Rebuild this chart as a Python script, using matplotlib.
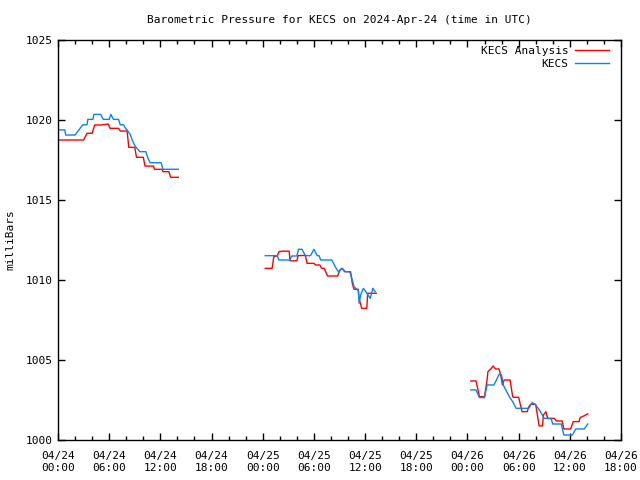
import numpy as np
import matplotlib
matplotlib.use('Agg')
import matplotlib.pyplot as plt

nan = np.nan

# hours since 2024-04-24 00:00 UTC, nan = gap in the record
analysis_hours = [0.0, 3.0, 3.4, 4.0, 4.3, 5.1, 5.9, 6.1, 7.1, 7.3, 8.1, 8.3, 9.0, 9.2,
                  10.0, 10.2, 11.2, 11.3, 12.2, 12.3, 13.0, 13.2, 14.1,
                  nan,
                  24.3, 25.1, 25.3, 25.7, 25.9, 26.3, 27.1, 27.2, 28.0, 28.15, 29.0,
                  29.2, 30.0, 30.2, 30.7, 30.9, 31.2, 31.6, 32.8, 33.0, 33.3, 33.6,
                  34.3, 34.5, 34.7, 35.2, 35.3, 35.6, 36.2, 36.3, 37.3,
                  nan,
                  48.4, 49.0, 49.2, 49.4, 50.0, 50.3, 50.4, 50.8, 51.0, 51.3, 51.7,
                  51.9, 52.1, 52.3, 53.0, 53.3, 53.4, 54.0, 54.4, 55.0, 55.2, 55.4,
                  56.0, 56.4, 56.8, 56.9, 57.2, 57.4, 58.2, 58.4, 59.1, 59.3, 60.1,
                  60.4, 61.1, 61.2, 61.7, 62.1]
analysis_mb = [1018.75, 1018.75, 1019.17, 1019.17, 1019.69, 1019.69, 1019.75, 1019.48, 1019.48,
               1019.31, 1019.31, 1018.29, 1018.29, 1017.67, 1017.67, 1017.12, 1017.12,
               1016.92, 1016.92, 1016.77, 1016.77, 1016.42, 1016.42,
               nan,
               1010.73, 1010.73, 1011.46, 1011.5, 1011.77, 1011.8, 1011.8, 1011.2, 1011.2,
               1011.53, 1011.53, 1011.04, 1011.04, 1010.94, 1010.94, 1010.73, 1010.73,
               1010.25, 1010.25, 1010.6, 1010.73, 1010.52, 1010.52, 1009.79, 1009.42,
               1009.42, 1008.85, 1008.23, 1008.23, 1009.17, 1009.17,
               nan,
               1003.69, 1003.69, 1003.23, 1002.71, 1002.71, 1003.75, 1004.27, 1004.47,
               1004.63, 1004.44, 1004.44, 1004.06, 1003.44, 1003.75, 1003.75, 1002.71,
               1002.67, 1002.67, 1001.77, 1001.77, 1002.08, 1002.23, 1002.23, 1000.88,
               1000.88, 1001.56, 1001.77, 1001.35, 1001.35, 1001.19, 1001.19, 1000.69,
               1000.69, 1001.15, 1001.15, 1001.4, 1001.52, 1001.63]

station_hours = [0.0, 0.8, 0.9, 2.0, 2.9, 3.4, 3.5, 4.1, 4.2, 5.0, 5.3, 6.0, 6.2, 6.5, 7.1,
                 7.3, 7.7, 7.9, 8.1, 8.5, 8.7, 9.0, 9.3, 9.6, 10.3, 10.5, 10.8, 12.1,
                 12.3, 14.1,
                 nan,
                 24.3, 25.7, 25.9, 27.2, 27.4, 28.0, 28.2, 28.6, 29.0, 29.6, 30.0, 30.4,
                 30.6, 30.8, 32.1, 32.5, 32.9, 33.3, 33.7, 34.2, 34.5, 34.7, 35.1, 35.2,
                 35.3, 35.5, 35.8, 36.3, 36.6, 36.9, 37.2,
                 nan,
                 48.4, 49.0, 49.4, 50.0, 50.3, 51.1, 51.4, 51.7, 52.0, 52.2, 52.5, 52.9,
                 53.3, 53.7, 55.2, 55.6, 55.9, 56.3, 56.6, 57.0, 57.8, 58.0, 59.0, 59.3,
                 60.3, 60.7, 61.7, 62.1]
station_mb = [1019.38, 1019.38, 1019.06, 1019.06, 1019.7, 1019.7, 1020.04, 1020.04, 1020.35,
              1020.35, 1020.04, 1020.04, 1020.35, 1020.04, 1020.04, 1019.7, 1019.7,
              1019.48, 1019.38, 1019.06, 1018.75, 1018.4, 1018.2, 1018.02, 1018.02,
              1017.67, 1017.33, 1017.33, 1016.92, 1016.92,
              nan,
              1011.52, 1011.52, 1011.25, 1011.25, 1011.5, 1011.5, 1011.92, 1011.92,
              1011.52, 1011.52, 1011.92, 1011.52, 1011.52, 1011.25, 1011.25, 1010.83,
              1010.48, 1010.73, 1010.52, 1010.52, 1010.0, 1009.58, 1009.38, 1009.38,
              1008.54, 1009.1, 1009.48, 1009.1, 1008.85, 1009.48, 1009.27,
              nan,
              1003.13, 1003.13, 1002.65, 1002.65, 1003.44, 1003.44, 1003.75, 1004.1,
              1004.06, 1003.44, 1003.13, 1002.71, 1002.4, 1001.98, 1001.98, 1002.35,
              1002.23, 1001.98, 1001.73, 1001.35, 1001.35, 1001.0, 1001.0, 1000.31,
              1000.31, 1000.69, 1000.69, 1001.0]

tick_hours = list(range(0, 67, 6))
tick_labels = ['04/24\n00:00', '04/24\n06:00', '04/24\n12:00', '04/24\n18:00',
               '04/25\n00:00', '04/25\n06:00', '04/25\n12:00', '04/25\n18:00',
               '04/26\n00:00', '04/26\n06:00', '04/26\n12:00', '04/26\n18:00']

plt.rcParams['font.family'] = ['DejaVu Sans Mono']
plt.rcParams['font.size'] = 8

fig = plt.figure(figsize=(6.4, 4.8), dpi=100)
ax = fig.add_axes([58 / 640, 40 / 480, 563 / 640, 400 / 480])

ax.plot(analysis_hours, analysis_mb, color='#ff0000', lw=1, label='KECS Analysis')
ax.plot(station_hours, station_mb, color='#0a84f0', lw=1, label='KECS')

ax.set_xlim(0, 66)
ax.set_ylim(1000, 1025)
ax.set_xticks(tick_hours)
ax.set_xticklabels(tick_labels)
ax.set_xticks(range(0, 67, 2), minor=True)
ax.set_yticks(range(1000, 1026, 5))
ax.tick_params(axis='both', which='major', direction='in', length=5, width=1,
               top=True, right=True, labelsize=8)
ax.tick_params(axis='x', which='minor', direction='in', length=3, width=1, top=True)
ax.tick_params(axis='x', which='major', pad=8)
for sp in ax.spines.values():
    sp.set_linewidth(1)

ax.set_ylabel('milliBars', fontsize=8, labelpad=8)
ax.set_title('Barometric Pressure for KECS on 2024-Apr-24 (time in UTC)', fontsize=8, pad=12)
ax.legend(loc='upper right', frameon=False, markerfirst=False, handlelength=3.0,
          fontsize=8, borderaxespad=0.05, borderpad=0.3, labelspacing=0.25,
          handletextpad=0.6, bbox_to_anchor=(0.985, 0.995))

fig.savefig('out.png', dpi=100)
